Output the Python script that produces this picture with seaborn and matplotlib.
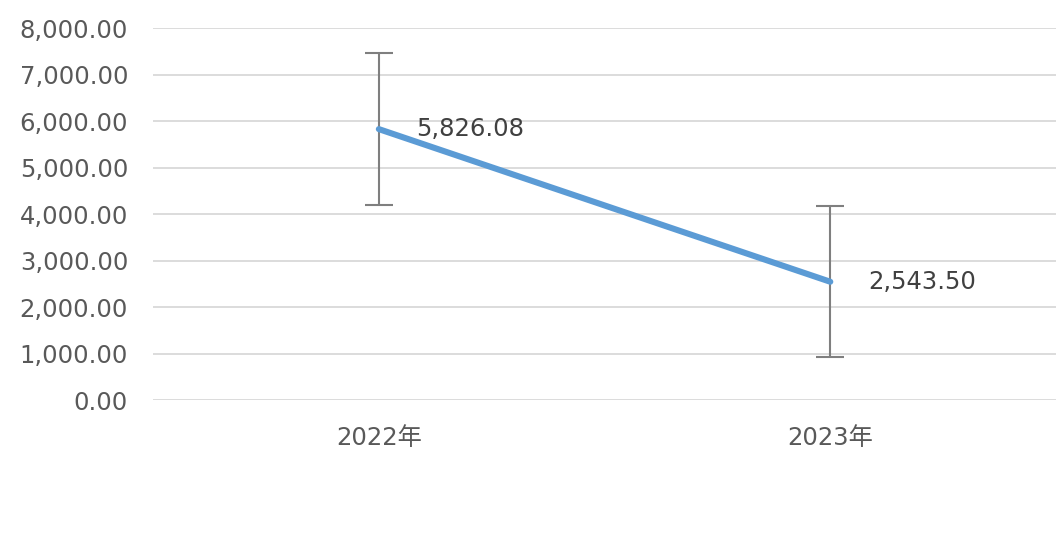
import matplotlib
matplotlib.use("Agg")
import matplotlib.pyplot as plt
import seaborn as sns
import pandas as pd
from matplotlib.ticker import FuncFormatter

years = ["2022年", "2023年"]
values = [5826.08, 2543.50]
errors = [1634, 1627]

sns.set_theme(style="white")
plt.rcParams['font.family'] = ['DejaVu Sans', 'Noto Sans CJK SC']

df = pd.DataFrame({"year": years, "value": values})

fig = plt.figure(figsize=(10.56, 5.41), dpi=100)
ax = fig.add_axes([0.145, 0.2606, 0.855, 0.6876])

sns.lineplot(data=df, x="year", y="value", ax=ax, color="#5B9BD5",
             linewidth=4.4, sort=False, zorder=3)
ax.errorbar(x=range(len(years)), y=values, yerr=errors, fmt="none",
            ecolor="#7F7F7F", elinewidth=1.5, capsize=10, capthick=1.5, zorder=2)

for i, v in enumerate(values):
    ax.annotate(f"{v:,.2f}", xy=(i, v), xytext=(27, 0), textcoords="offset points",
                ha="left", va="center", fontsize=17.5, color="#404040")

ax.set_ylim(0, 8000)
ax.set_xlim(-0.5, 1.5)
ax.set_yticks(range(0, 8001, 1000))
ax.yaxis.set_major_formatter(FuncFormatter(lambda v, p: f"{v:,.2f}"))
ax.grid(axis="y", color="#D9D9D9", linewidth=1.3)
ax.set_axisbelow(True)
for s in ax.spines.values():
    s.set_visible(False)
ax.tick_params(axis="y", length=0, pad=18, labelsize=17.5, labelcolor="#595959")
ax.tick_params(axis="x", length=0, pad=19, labelsize=17.5, labelcolor="#595959")
ax.set_xlabel("")
ax.set_ylabel("")

fig.savefig("out.png", dpi=100)
